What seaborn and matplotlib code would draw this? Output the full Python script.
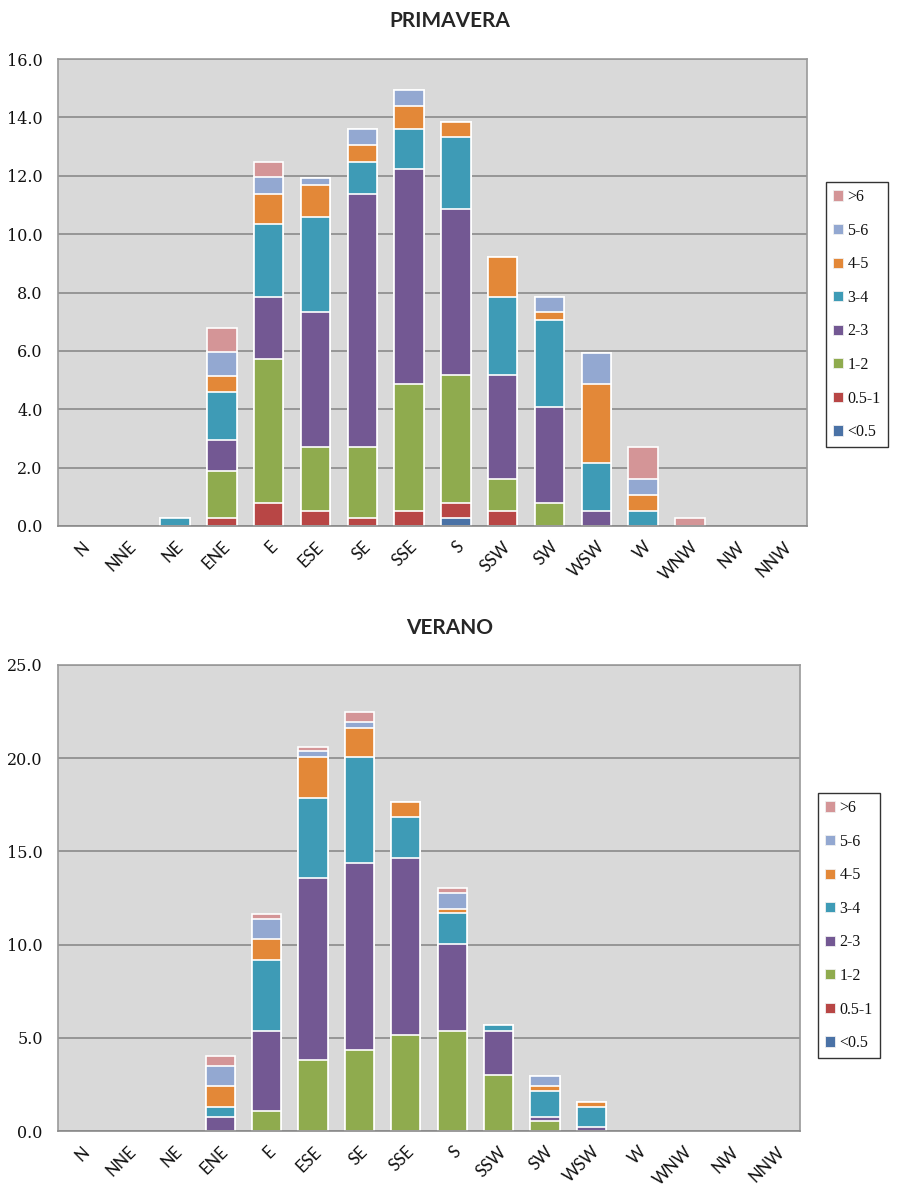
import numpy as np
import pandas as pd
import seaborn as sns
import matplotlib.pyplot as plt
from matplotlib.patches import Patch
from matplotlib.ticker import FixedLocator

DIRS = ['N', 'NNE', 'NE', 'ENE', 'E', 'ESE', 'SE', 'SSE',
        'S', 'SSW', 'SW', 'WSW', 'W', 'WNW', 'NW', 'NNW']
SPEEDS = ['<0.5', '0.5-1', '1-2', '2-3', '3-4', '4-5', '5-6', '>6']
COLORS = ['#4a72a6', '#b84645', '#8fab4e', '#735893',
          '#3e9bb6', '#e38838', '#93a8d1', '#d49597']

# PRIMAVERA - frequency (%) per direction, one list per speed class
prim_lt05 = [0, 0, 0, 0, 0, 0, 0, 0, 0.26, 0, 0, 0, 0, 0, 0, 0]
prim_05_1 = [0, 0, 0, 0.28, 0.8, 0.53, 0.26, 0.53, 0.53, 0.53, 0, 0, 0, 0, 0, 0]
prim_1_2 = [0, 0, 0, 1.62, 4.91, 2.17, 2.44, 4.34, 4.37, 1.07, 0.8, 0, 0, 0, 0, 0]
prim_2_3 = [0, 0, 0, 1.06, 2.14, 4.63, 8.67, 7.35, 5.7, 3.56, 3.27, 0.53, 0, 0, 0, 0]
prim_3_4 = [0, 0, 0.27, 1.62, 2.48, 3.24, 1.11, 1.37, 2.46, 2.69, 2.98, 1.63, 0.53, 0, 0, 0]
prim_4_5 = [0, 0, 0, 0.57, 1.04, 1.12, 0.59, 0.8, 0.52, 1.36, 0.27, 2.69, 0.53, 0, 0, 0]
prim_5_6 = [0, 0, 0, 0.8, 0.59, 0.24, 0.52, 0.55, 0, 0, 0.53, 1.09, 0.54, 0, 0, 0]
prim_gt6 = [0, 0, 0, 0.84, 0.51, 0, 0, 0, 0, 0, 0, 0, 1.09, 0.27, 0, 0]

# VERANO
ver_lt05 = [0] * 16
ver_05_1 = [0] * 16
ver_1_2 = [0, 0, 0, 0, 1.07, 3.79, 4.32, 5.14, 5.36, 2.98, 0.55, 0, 0, 0, 0, 0]
ver_2_3 = [0, 0, 0, 0.75, 4.32, 9.76, 10.07, 9.49, 4.66, 2.41, 0.22, 0.21, 0, 0, 0, 0]
ver_3_4 = [0, 0, 0, 0.54, 3.79, 4.34, 5.68, 2.19, 1.66, 0.27, 1.36, 1.08, 0, 0, 0, 0]
ver_4_5 = [0, 0, 0, 1.1, 1.11, 2.18, 1.57, 0.81, 0.21, 0, 0.26, 0.28, 0, 0, 0, 0]
ver_5_6 = [0, 0, 0, 1.11, 1.09, 0.29, 0.32, 0, 0.86, 0, 0.54, 0, 0, 0, 0, 0]
ver_gt6 = [0, 0, 0, 0.5, 0.26, 0.25, 0.54, 0, 0.27, 0, 0, 0, 0, 0, 0, 0]

prim = [prim_lt05, prim_05_1, prim_1_2, prim_2_3, prim_3_4, prim_4_5, prim_5_6, prim_gt6]
ver = [ver_lt05, ver_05_1, ver_1_2, ver_2_3, ver_3_4, ver_4_5, ver_5_6, ver_gt6]

sns.set_style("white")
W, H = 899, 1186
fig = plt.figure(figsize=(W / 100, H / 100), dpi=100)


def stacked(ax, series, ymax, ystep):
    df = pd.DataFrame(dict(zip(SPEEDS, series)), index=DIRS)
    cum = df.cumsum(axis=1)
    # draw from the tallest cumulative down so lower classes sit on top
    for lvl, col in zip(SPEEDS[::-1], COLORS[::-1]):
        sns.barplot(x=DIRS, y=cum[lvl].values, order=DIRS, color=col,
                    width=0.63, edgecolor='white', linewidth=1.2,
                    saturation=1, ax=ax)
    for p in list(ax.patches):
        if p.get_height() <= 0:
            p.remove()
    ax.set_facecolor('#d9d9d9')
    ax.set_xlim(-0.5, 15.5)
    ax.set_ylim(0, ymax)
    yt = np.arange(0, ymax + 0.01, ystep)
    ax.set_yticks(yt)
    ax.set_yticklabels([f'{v:.1f}' for v in yt], family='DejaVu Serif',
                       fontsize=11.5, color='#111111')
    ax.yaxis.grid(True, color='#8a8a8a', linewidth=1.2)
    ax.set_axisbelow(True)
    for s in ax.spines.values():
        s.set_color('#9a9a9a')
        s.set_linewidth(1.2)
    ax.spines['bottom'].set_color('#8a8a8a')
    ax.set_xticks(range(16))
    ax.set_xticklabels(DIRS, rotation=45, ha='right', rotation_mode='anchor',
                       family='Lato', fontsize=12, color='#111111')
    ax.xaxis.set_minor_locator(FixedLocator(np.arange(-0.5, 16, 1)))
    ax.tick_params(axis='x', which='major', length=0, pad=9)
    ax.tick_params(axis='x', which='minor', length=5, color='#8a8a8a', width=1.2)
    ax.tick_params(axis='y', length=0, pad=11)
    ax.set_xlabel('')
    ax.set_ylabel('')


def legend(x0, y_top):
    handles = [Patch(facecolor=c, edgecolor='#f0f0f0', linewidth=0.6)
               for c in COLORS[::-1]]
    leg = fig.legend(handles, SPEEDS[::-1], loc='upper left',
                     bbox_to_anchor=(x0 / W, 1 - y_top / H),
                     frameon=True, fancybox=False, edgecolor='black',
                     handlelength=0.6, handleheight=0.6, handletextpad=0.3,
                     labelspacing=1.1, borderpad=0.45, borderaxespad=0,
                     prop={'family': 'Liberation Serif', 'size': 11.5})
    leg.get_frame().set_linewidth(1.0)
    for t in leg.get_texts():
        t.set_color('#111111')


ax1 = fig.add_axes([58 / W, 1 - 526 / H, (807 - 58) / W, (526 - 59) / H])
stacked(ax1, prim, 16, 2)
ax2 = fig.add_axes([58 / W, 1 - 1131 / H, (800 - 58) / W, (1131 - 665) / H])
stacked(ax2, ver, 25, 5)

fig.text(0.5, 1 - 21 / H, 'PRIMAVERA', ha='center', va='center',
         family='Lato', weight='bold', fontsize=15)
fig.text(0.5, 1 - 628 / H, 'VERANO', ha='center', va='center',
         family='Lato', weight='bold', fontsize=15)

legend(826, 182)
legend(818, 793)

fig.savefig('out.png', dpi=100)
